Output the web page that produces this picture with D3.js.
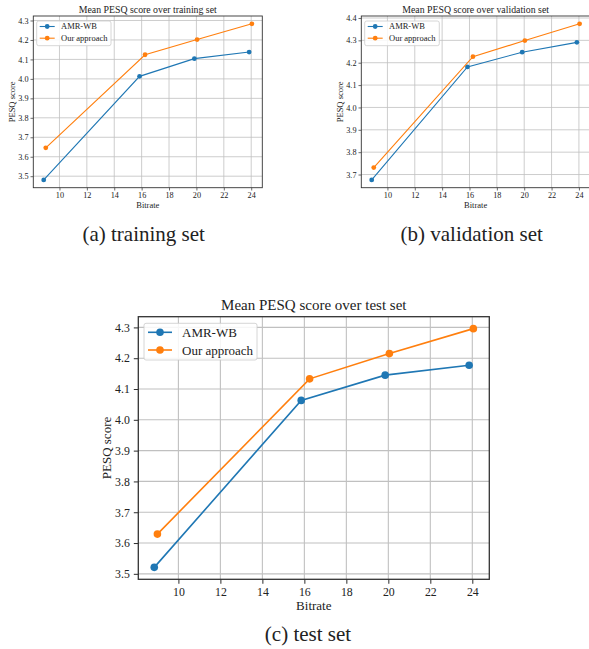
<!DOCTYPE html>
<html>
<head>
<meta charset="utf-8">
<script src="https://cdn.jsdelivr.net/npm/d3@7"></script>
<style>
  html, body { margin: 0; padding: 0; background: #fff; }
  svg { display: block; }
  text { font-family: "Liberation Serif", serif; fill: #222; }
</style>
</head>
<body>
<svg id="fig" width="589" height="649"></svg>
<script>
// ---- data ----
const seriesNames = ["AMR-WB", "Our approach"];
const bitratesAmr = [8.85, 15.85, 19.85, 23.85];
const bitratesOurs = [9.0, 16.25, 20.05, 24.05];
const trainAmr = [3.481, 4.013, 4.104, 4.138];
const trainOurs = [3.646, 4.124, 4.202, 4.283];
const valAmr = [3.676, 4.181, 4.247, 4.291];
const valOurs = [3.731, 4.227, 4.299, 4.374];
const testAmr = [3.521, 4.063, 4.145, 4.177];
const testOurs = [3.629, 4.133, 4.215, 4.296];
const xTicks = [10, 12, 14, 16, 18, 20, 22, 24];
const yTicksTrain = [3.5, 3.6, 3.7, 3.8, 3.9, 4.0, 4.1, 4.2, 4.3];
const yTicksVal = [3.7, 3.8, 3.9, 4.0, 4.1, 4.2, 4.3, 4.4];
const yTicksTest = [3.5, 3.6, 3.7, 3.8, 3.9, 4.0, 4.1, 4.2, 4.3];
const titles = ["Mean PESQ score over training set", "Mean PESQ score over validation set", "Mean PESQ score over test set"];
const captions = ["(a) training set", "(b) validation set", "(c) test set"];
const xLabel = "Bitrate";
const yLabel = "PESQ score";
const colors = ["#1f77b4", "#ff7f0e"];

const svg = d3.select("#fig");

function padDomain(vals) {
  const lo = d3.min(vals), hi = d3.max(vals), m = (hi - lo) * 0.05;
  return [lo - m, hi + m];
}

function drawChart(cfg) {
  const { L, R, T, B, amr, ours, yTicks, title, fs } = cfg;
  const g = svg.append("g");
  const x = d3.scaleLinear().domain(padDomain(bitratesAmr.concat(bitratesOurs))).range([L, R]);
  const y = d3.scaleLinear().domain(padDomain(amr.concat(ours))).range([B, T]);

  const clipId = "clip" + Math.round(L);
  g.append("clipPath").attr("id", clipId).append("rect")
    .attr("x", L).attr("y", T).attr("width", R - L).attr("height", B - T);

  const grid = g.append("g").attr("clip-path", `url(#${clipId})`);
  grid.selectAll(".gx").data(xTicks).join("line")
    .attr("x1", d => x(d)).attr("x2", d => x(d)).attr("y1", T).attr("y2", B)
    .attr("stroke", "#c0c0c0").attr("stroke-width", cfg.gw);
  grid.selectAll(".gy").data(yTicks).join("line")
    .attr("y1", d => y(d)).attr("y2", d => y(d)).attr("x1", L).attr("x2", R)
    .attr("stroke", "#c0c0c0").attr("stroke-width", cfg.gw);

  const xAxis = d3.axisBottom(x).tickValues(xTicks).tickSize(cfg.tick).tickPadding(cfg.pad).tickFormat(d3.format("d"));
  const yAxis = d3.axisLeft(y).tickValues(yTicks).tickSize(cfg.tick).tickPadding(cfg.pad).tickFormat(d3.format(".1f"));
  const gx = g.append("g").attr("transform", `translate(0,${B})`).call(xAxis);
  const gy = g.append("g").attr("transform", `translate(${L},0)`).call(yAxis);
  [gx, gy].forEach(a => {
    a.attr("font-family", null);
    a.select(".domain").remove();
    a.selectAll("line").attr("stroke", "#333").attr("stroke-width", cfg.fw * 0.8);
    a.selectAll("text").attr("font-size", fs.tick).attr("fill", "#333");
  });

  const series = [
    { xs: bitratesAmr, ys: amr, c: colors[0] },
    { xs: bitratesOurs, ys: ours, c: colors[1] }
  ];
  const line = d3.line().x(d => x(d[0])).y(d => y(d[1]));
  series.forEach(s => {
    const pts = s.xs.map((v, i) => [v, s.ys[i]]);
    g.append("path").attr("d", line(pts)).attr("fill", "none")
      .attr("stroke", s.c).attr("stroke-width", cfg.lw);
    g.selectAll(null).data(pts).join("circle")
      .attr("cx", d => x(d[0])).attr("cy", d => y(d[1])).attr("r", cfg.r).attr("fill", s.c);
  });

  g.append("rect").attr("x", L).attr("y", T).attr("width", R - L).attr("height", B - T)
    .attr("fill", "none").attr("stroke", "#333").attr("stroke-width", cfg.fw);

  g.append("text").attr("x", (L + R) / 2).attr("y", T - cfg.titleGap).attr("text-anchor", "middle")
    .attr("font-size", fs.title).text(title);
  g.append("text").attr("x", (L + R) / 2).attr("y", cfg.xlabY).attr("text-anchor", "middle")
    .attr("font-size", fs.label).attr("fill", "#333").text(xLabel);
  g.append("text").attr("transform", `translate(${cfg.ylabX},${(T + B) / 2}) rotate(-90)`)
    .attr("text-anchor", "middle").attr("font-size", fs.label).attr("fill", "#333").text(yLabel);

  const lg = cfg.leg;
  g.append("rect").attr("x", lg.x).attr("y", lg.y).attr("width", lg.w).attr("height", lg.h)
    .attr("rx", 2).attr("fill", "#fff").attr("fill-opacity", 0.85)
    .attr("stroke", "#ccc").attr("stroke-width", 0.8);
  seriesNames.forEach((n, i) => {
    const yy = lg.y + lg.row0 + i * lg.dy;
    g.append("line").attr("x1", lg.x + lg.l0).attr("x2", lg.x + lg.l1).attr("y1", yy).attr("y2", yy)
      .attr("stroke", colors[i]).attr("stroke-width", cfg.lw);
    g.append("circle").attr("cx", lg.x + (lg.l0 + lg.l1) / 2).attr("cy", yy).attr("r", cfg.r).attr("fill", colors[i]);
    g.append("text").attr("x", lg.x + lg.tx).attr("y", yy).attr("dy", "0.35em")
      .attr("font-size", fs.legend).text(n);
  });
}

drawChart({
  L: 33.3, R: 262.3, T: 16, B: 187.7, amr: trainAmr, ours: trainOurs, yTicks: yTicksTrain, title: titles[0],
  fs: { tick: 8.2, title: 9.8, label: 8.5, legend: 8.5 }, gw: 0.8, fw: 0.9, lw: 1.1, r: 2.4, tick: 2.8, pad: 2,
  titleGap: 3.5, xlabY: 208, ylabX: 15,
  leg: { x: 36.7, y: 21, w: 74.3, h: 24.7, row0: 5.5, dy: 11.7, l0: 3, l1: 18, tx: 24.3 }
});
drawChart({
  L: 361.3, R: 590, T: 16, B: 187.7, amr: valAmr, ours: valOurs, yTicks: yTicksVal, title: titles[1],
  fs: { tick: 8.2, title: 9.8, label: 8.5, legend: 8.5 }, gw: 0.8, fw: 0.9, lw: 1.1, r: 2.4, tick: 2.8, pad: 2,
  titleGap: 3.5, xlabY: 208, ylabX: 343,
  leg: { x: 364.7, y: 21, w: 74.6, h: 24.7, row0: 5.5, dy: 11.7, l0: 3, l1: 18, tx: 24.3 }
});
drawChart({
  L: 138.3, R: 489.3, T: 316.7, B: 579.3, amr: testAmr, ours: testOurs, yTicks: yTicksTest, title: titles[2],
  fs: { tick: 11.8, title: 15, label: 13, legend: 13 }, gw: 1.1, fw: 1.3, lw: 1.6, r: 3.8, tick: 4.5, pad: 4,
  titleGap: 7, xlabY: 610, ylabX: 111,
  leg: { x: 144, y: 323.3, w: 113, h: 36.7, row0: 9, dy: 17.7, l0: 4, l1: 28, tx: 38 }
});

// captions
const capPos = [[143.7, 241], [471.7, 241], [308, 641]];
captions.forEach((c, i) => {
  svg.append("text").attr("x", capPos[i][0]).attr("y", capPos[i][1]).attr("text-anchor", "middle")
    .attr("font-size", 21).attr("fill", "#000").text(c);
});
</script>
</body>
</html>
